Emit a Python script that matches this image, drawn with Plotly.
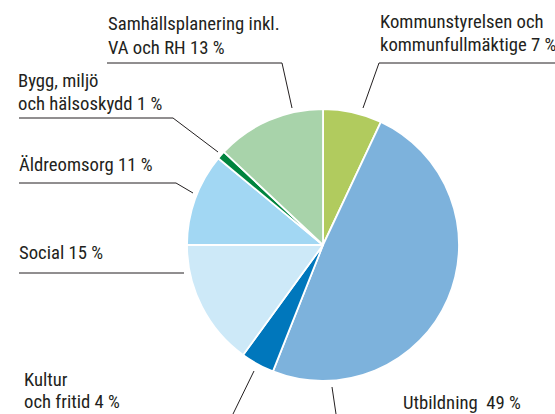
import plotly.graph_objects as go

W, H = 555, 414

categories = [
    "Kommunstyrelsen och kommunfullmäktige",
    "Utbildning",
    "Kultur och fritid",
    "Social",
    "Äldreomsorg",
    "Bygg, miljö och hälsoskydd",
    "Samhällsplanering inkl. VA och RH",
]
values = [7, 49, 4, 15, 11, 1, 13]
colors = ["#b1cb5e", "#7db2dc", "#0077bc", "#cde9f8", "#a2d7f3", "#00843e", "#a8d3aa"]

# label lines per slice
label_lines = [
    ["Kommunstyrelsen och", "kommunfullmäktige 7 %"],
    ["Utbildning \u00a049 %"],
    ["Kultur", "och fritid 4 %"],
    ["Social 15 %"],
    ["Äldreomsorg 11 %"],
    ["Bygg, miljö", "och hälsoskydd 1 %"],
    ["Samhällsplanering inkl.", "VA och RH 13 %"],
]
# label placement: left px and baseline px of each line
label_x = [378, 401, 22, 17, 17, 16, 106]
label_baselines = [[31, 54], [412], [389, 411], [262], [174], [90, 113], [33, 57]]

# leader lines in px
leaders = [
    [(555, 63), (379, 63), (363, 108)],
    [(332, 387), (336, 414)],
    [(254, 371), (233, 414)],
    [(19, 273), (184, 273)],
    [(19, 183), (176, 183), (193, 193)],
    [(19, 118), (173, 118), (218, 152)],
    [(107, 63), (282, 63), (292, 108)],
]

def X(px):
    return px / W

def Y(py):
    return 1 - py / H

cx, cy, r = 323, 245, 136

fig = go.Figure(go.Pie(
    labels=categories,
    values=values,
    marker=dict(colors=colors, line=dict(color="white", width=1.8)),
    sort=False,
    direction="clockwise",
    rotation=0,
    textinfo="none",
    hoverinfo="label+percent",
    domain=dict(x=[X(cx - r), X(cx + r)], y=[Y(cy + r), Y(cy - r)]),
    showlegend=False,
))

FONT = "Roboto Condensed, DejaVu Sans Condensed, Liberation Sans Narrow, Liberation Sans, sans-serif"
FS = 18.7
BASE_OFF = 22  # px from annotation box top to text baseline

annotations = []
for lines, lx, bls in zip(label_lines, label_x, label_baselines):
    for txt, bl in zip(lines, bls):
        annotations.append(dict(
            text=txt, x=X(lx), y=Y(bl - BASE_OFF), xref="paper", yref="paper",
            xanchor="left", yanchor="top", align="left", showarrow=False,
            font=dict(family=FONT, size=FS, color="#231f20"),
        ))

shapes = []
for pts in leaders:
    path = "M " + " L ".join(f"{X(px)},{Y(py)}" for px, py in pts)
    shapes.append(dict(type="path", path=path, xref="paper", yref="paper",
                       line=dict(color="#231f20", width=1)))

fig.update_layout(
    width=W, height=H,
    margin=dict(l=0, r=0, t=0, b=0),
    paper_bgcolor="white",
    plot_bgcolor="white",
    annotations=annotations,
    shapes=shapes,
    font=dict(family=FONT),
)

fig.write_html(
    "out.html",
    config={"displayModeBar": False},
    post_script="document.body.style.margin='0';document.body.style.overflow='hidden';",
)
